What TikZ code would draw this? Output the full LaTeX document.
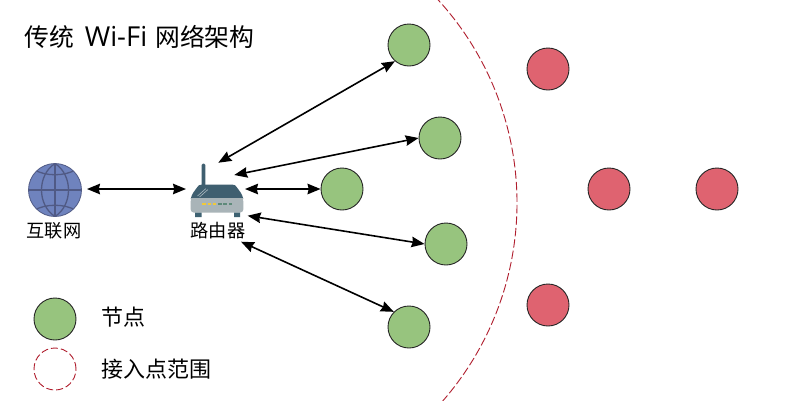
\documentclass[tikz,border=0pt]{standalone}
\usepackage{fontspec}
\setmainfont{Open Sans}
\newfontfamily\cjk{Noto Sans CJK SC}
\usetikzlibrary{arrows.meta,calc}
\definecolor{ngreen}{HTML}{97C47E}
\definecolor{nred}{HTML}{DF6370}
\definecolor{arcred}{HTML}{B01E2E}
\definecolor{globeblue}{HTML}{6F83BE}
\definecolor{globeline}{HTML}{505A85}
\definecolor{rtop}{HTML}{3F5F70}
\definecolor{rbase}{HTML}{A9B4B8}
\definecolor{rfoot}{HTML}{3E6272}
\tikzset{
 greennode/.style={circle,draw=black!85,line width=0.9pt,fill=ngreen,minimum size=42pt,inner sep=0pt},
 rednode/.style={circle,draw=black!85,line width=0.9pt,fill=nred,minimum size=42pt,inner sep=0pt},
 link/.style={draw=black,line width=1.6pt,{Stealth[length=13pt,width=10.5pt,inset=1.2pt]}-{Stealth[length=13pt,width=10.5pt,inset=1.2pt]}},
 label/.style={inner sep=0pt,font=\cjk\fontsize{18.2}{20}\selectfont},
 legendtext/.style={inner sep=0pt,anchor=west,font=\cjk\fontsize{22}{24}\selectfont},
 iconbox/.style={minimum width=54pt,minimum height=54pt,inner sep=0pt},
 globeln/.style={draw=globeline,line width=1.3pt}
}
\begin{document}
\begin{tikzpicture}[x=1pt,y=-1pt]
\useasboundingbox (0,0) rectangle (800,400);
\fill[white] (0,0) rectangle (800,400);
% range arc
\begin{scope}
\clip (0,0) rectangle (800,400);
\draw[arcred,line width=0.9pt,dash pattern=on 8.5pt off 3pt] (216,203) ++(-50:301) arc[start angle=-50,end angle=50,radius=301];
\end{scope}
% globe
\node[iconbox] (net) at (55,190) {};
\fill[globeblue] (55,190) circle (26.5);
\begin{scope}
\clip (55,190) circle (26.5);
\draw[globeln] (55,163) -- (55,217) (28,190) -- (82,190);
\draw[globeln] (55,163.5) .. controls (37,175) and (37,205) .. (55,216.5);
\draw[globeln] (55,163.5) .. controls (73,175) and (73,205) .. (55,216.5);
\draw[globeln] (34,169.5) .. controls (45,176.5) and (65,176.5) .. (76,169.5);
\draw[globeln] (34,210.5) .. controls (45,203.5) and (65,203.5) .. (76,210.5);
\end{scope}
\draw[globeline,line width=0.8pt] (55,190) circle (26.5);
% router
\node[iconbox] (router) at (217,190) {};
\fill[rtop,rounded corners=1.5pt] (201.7,163.5) rectangle (205.3,190);
\fill[rtop] (190.7,199) .. controls (191,197) and (192,195) .. (193,193) -- (197,187.5) .. controls (198,185.5) and (199.5,184.5) .. (202,184.5) -- (232,184.5) .. controls (234.5,184.5) and (236,185.5) .. (237,187.5) -- (241,193) .. controls (242,195) and (243,197) .. (243.3,199) -- cycle;
\draw[white!55!rtop,line width=0.6pt] (197.5,196) -- (206,188.5) (199.5,197) -- (208,189.5);
\fill[rbase,rounded corners=3pt] (190.7,198) -- (243.3,198) -- (243.3,212.5) -- (190.7,212.5) -- cycle;
\fill[rbase] (190.7,198) rectangle (243.3,204);
\fill[rfoot] (195,212.5) rectangle (201.7,217) (234,212.5) rectangle (240,217);
\foreach \x/\c in {204/F0C93A,209.3/F0C93A,214.6/F0C93A,219.9/5E8A7A,225.2/5E8A7A,230.5/5E8A7A}{
  \definecolor{ledc}{HTML}{\c}
  \fill[ledc] (\x-1.8,203.3) rectangle (\x+1.8,205.3);
}
% nodes
\node[greennode] (g1) at (409,45) {};
\node[greennode] (g2) at (440,138) {};
\node[greennode] (g3) at (342,189) {};
\node[greennode] (g4) at (446,244) {};
\node[greennode] (g5) at (409,327) {};
\node[rednode] (r1) at (548,69) {};
\node[rednode] (r2) at (609,189) {};
\node[rednode] (r3) at (717,189) {};
\node[rednode] (r4) at (548,305) {};
% links
\path[link] ([xshift=32pt,yshift=1pt]net.center) -- ([xshift=-31pt,yshift=1pt]router.center);
\path[link] ([xshift=1.3pt,yshift=27.3pt]router.center) -- (g1.229);
\path[link] ([xshift=17.3pt,yshift=15pt]router.center) -- (g2.west);
\path[link] ([xshift=28pt,yshift=1pt]router.center) -- (g3.west);
\path[link] ([xshift=30.7pt,yshift=-25.7pt]router.center) -- (g4.west);
\path[link] ([xshift=24pt,yshift=-51.7pt]router.center) -- (g5.135);
% legend
\node[greennode] (lg) at (55,319) {};
\node[circle,draw=arcred,line width=0.9pt,dash pattern=on 7pt off 3pt,minimum size=42pt,inner sep=0pt] (lr) at (55,369) {};
% text
\node[inner sep=0pt,anchor=west,font=\fontsize{27.5}{31}\selectfont] (title) at (24.5,37) {{\cjk\fontsize{24.8}{29}\selectfont 传统}\hspace{10.5pt}Wi-Fi\hspace{8pt}{\cjk\fontsize{24.8}{29}\selectfont 网络架构}};
\node[label] (netl) at (54,231) {互联网};
\node[label] (rl) at (218,231) {路由器};
\node[legendtext] (l1) at (101,317) {节点};
\node[legendtext] (l2) at (101,369) {接入点范围};
\end{tikzpicture}
\end{document}
